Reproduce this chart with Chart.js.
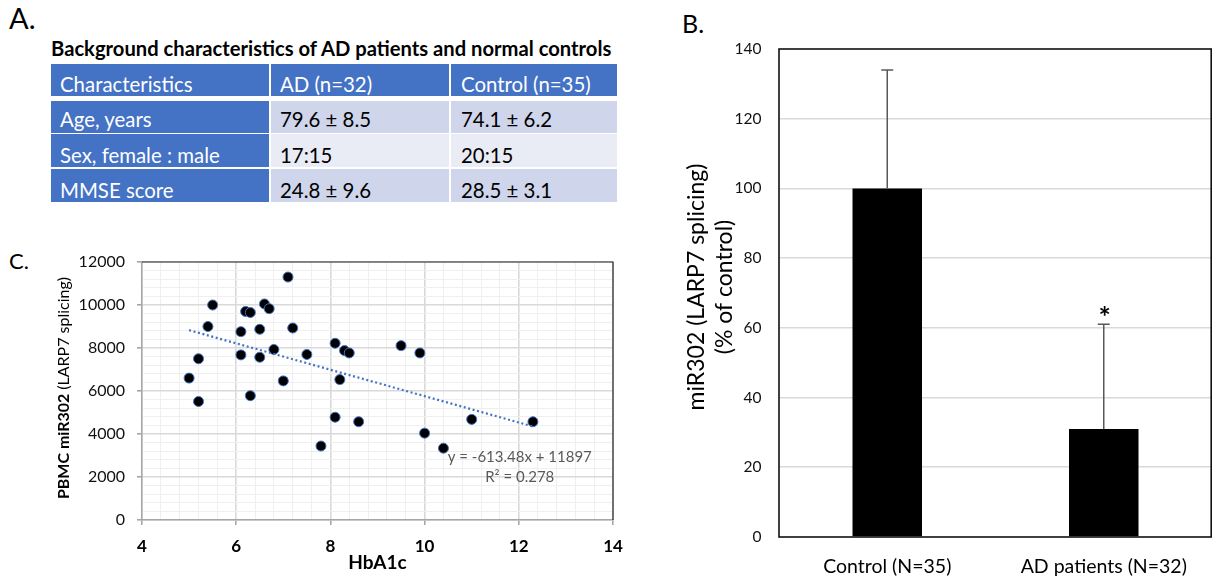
<!DOCTYPE html>
<html><head><meta charset="utf-8">
<script src="https://cdn.jsdelivr.net/npm/chart.js@4.4.1/dist/chart.umd.min.js"></script>
<style>
html,body{margin:0;padding:0;background:#fff;}
body{width:1213px;height:584px;position:relative;overflow:hidden;font-family:Lato,"Open Sans",sans-serif;}
.t{position:absolute;line-height:1;white-space:nowrap;}
.cell{position:absolute;}
#scWrap{position:absolute;left:0;top:230px;width:640px;height:354px;}
#barWrap{position:absolute;left:640px;top:0;width:573px;height:584px;}
</style></head><body>
<div id="tbl"></div>
<div id="scWrap"><canvas id="sc"></canvas></div>
<div id="barWrap"><canvas id="bar"></canvas></div>
<script>
// ---------- data ----------
const panelLabels = ["A.", "B.", "C."];
const tableTitle = "Background characteristics of AD patients and normal controls";
const tableHeader = ["Characteristics", "AD (n=32)", "Control (n=35)"];
const tableRowAge = ["Age, years", "79.6 ± 8.5", "74.1 ± 6.2"];
const tableRowSex = ["Sex, female : male", "17:15", "20:15"];
const tableRowMMSE = ["MMSE score", "24.8 ± 9.6", "28.5 ± 3.1"];

const hba1c  = [7.1, 5.5, 6.2, 6.3, 6.6, 6.7, 5.4, 6.1, 6.5, 7.2, 8.1, 8.3, 8.4, 9.5, 9.9, 6.8,
                6.1, 6.5, 7.5, 5.2, 5.0, 7.0, 8.2, 5.2, 6.3, 8.1, 8.6, 11.0, 12.3, 10.0, 7.8, 10.4];
const mir302 = [11300, 10000, 9700, 9650, 10050, 9830, 9000, 8760, 8870, 8930, 8220, 7880, 7770, 8110, 7770, 7930,
                7680, 7570, 7700, 7500, 6600, 6470, 6530, 5510, 5780, 4780, 4570, 4680, 4570, 4040, 3440, 3340];
const trendX = [5.0, 12.3];
const trendY = [8830, 4350];
const trendEquation = "y = -613.48x + 11897";
const trendR2 = "R² = 0.278";
const xMajorTicks = [4, 6, 8, 10, 12, 14];
const yMajorTicks = [0, 2000, 4000, 6000, 8000, 10000, 12000];
const xMinorStep = 0.4;
const yMinorStep = 400;
const scatterXTitle = "HbA1c";
const scatterYTitleBold = "PBMC miR302 ";
const scatterYTitleNormal = "(LARP7 splicing)";

const barCategories = ["Control (N=35)", "AD patients (N=32)"];
const barValues = [100, 31];
const barErrors = [34, 30];
const barMarks = ["", "*"];
const barTicks = [0, 20, 40, 60, 80, 100, 120, 140];
const barYTitle = ["miR302 (LARP7 splicing)", "(% of control)"];

// ---------- layout: panel labels + table (HTML) ----------
const tbl = document.getElementById('tbl');
function addText(str, x, baseline, size, weight, color) {
  const d = document.createElement('div');
  d.className = 't';
  d.textContent = str;
  d.style.left = x + 'px';
  d.style.top = (baseline - 0.887 * size) + 'px';
  d.style.fontSize = size + 'px';
  d.style.fontWeight = weight;
  d.style.color = color;
  tbl.appendChild(d);
}
function addCell(x0, x1, y0, y1, bg) {
  const d = document.createElement('div');
  d.className = 'cell';
  d.style.left = x0 + 'px'; d.style.top = y0 + 'px';
  d.style.width = (x1 - x0) + 'px'; d.style.height = (y1 - y0) + 'px';
  d.style.background = bg;
  tbl.appendChild(d);
}
addText(panelLabels[0], 9, 28.5, 29, 'normal', '#000');
addText(panelLabels[1], 682, 33.5, 25, 'normal', '#000');
addText(panelLabels[2], 9, 270, 22, 'normal', '#000');
addText(tableTitle, 51, 56, 20.2, 'bold', '#000');

const colX = [[50.7, 268.7], [270.7, 449], [451, 616.7]];
const rowY = [[64, 96], [100.7, 132.7], [134.3, 167.3], [169.3, 202.3]];
const rowBase = [91.7, 126.7, 163.3, 198.3];
const textX = [60, 280, 461];
const rowFill = ['#4472C4', '#CFD5EA', '#E9EBF5', '#CFD5EA'];
const rows = [tableHeader, tableRowAge, tableRowSex, tableRowMMSE];
rows.forEach((r, ri) => {
  r.forEach((txt, ci) => {
    const blue = ri === 0 || ci === 0;
    addCell(colX[ci][0], colX[ci][1], rowY[ri][0], rowY[ri][1], blue ? '#4472C4' : rowFill[ri]);
    addText(txt, textX[ci], rowBase[ri], 20.4, 'normal', blue ? '#fff' : '#000');
  });
});

// ---------- helpers ----------
const isMult = (v, m) => Math.abs(v / m - Math.round(v / m)) < 1e-6;
function stepTicks(min, max, step) {
  const out = [];
  const n = Math.round((max - min) / step);
  for (let i = 0; i <= n; i++) out.push({ value: Math.round((min + i * step) * 1000) / 1000 });
  return out;
}

// ---------- C: scatter ----------
const scatterDecor = {
  id: 'scatterDecor',
  afterDraw(chart) {
    const { ctx, chartArea: a, scales } = chart;
    ctx.save();
    // top & right frame
    ctx.strokeStyle = '#262626';
    ctx.lineWidth = 1.2;
    ctx.beginPath();
    ctx.moveTo(a.left, a.top); ctx.lineTo(a.right, a.top); ctx.lineTo(a.right, a.bottom);
    ctx.stroke();
    // trend equation
    ctx.fillStyle = '#595959';
    ctx.font = '15px Lato';
    ctx.textAlign = 'center';
    ctx.textBaseline = 'middle';
    ctx.fillText(trendEquation, scales.x.getPixelForValue(12.02), scales.y.getPixelForValue(2930));
    ctx.fillText(trendR2, scales.x.getPixelForValue(12.02), scales.y.getPixelForValue(2000));
    // y title (mixed weight)
    ctx.translate(a.left - 77.7, (a.top + a.bottom) / 2 - 3);
    ctx.rotate(-Math.PI / 2);
    ctx.fillStyle = '#000';
    ctx.textAlign = 'left';
    ctx.font = 'bold 16px Lato';
    const w1 = ctx.measureText(scatterYTitleBold).width;
    ctx.font = '16px Lato';
    const w2 = ctx.measureText(scatterYTitleNormal).width;
    const s = -(w1 + w2) / 2;
    ctx.font = 'bold 16px Lato';
    ctx.fillText(scatterYTitleBold, s, 0);
    ctx.font = '16px Lato';
    ctx.fillText(scatterYTitleNormal, s + w1, 0);
    ctx.restore();
  }
};

new Chart(document.getElementById('sc'), {
  type: 'scatter',
  data: {
    datasets: [
      { type: 'line', label: 'Linear trend', data: trendX.map((x, i) => ({ x, y: trendY[i] })),
        borderColor: '#4472C4', borderWidth: 2.2, borderDash: [2, 2.6], pointRadius: 0, fill: false, tension: 0, order: 0 },
      { label: 'PBMC miR302', data: hba1c.map((x, i) => ({ x, y: mir302[i] })),
        pointRadius: 5, pointHoverRadius: 5, backgroundColor: '#000', borderColor: '#4472C4', borderWidth: 1, order: 1 }
    ]
  },
  options: {
    animation: false, responsive: true, maintainAspectRatio: false,
    layout: { padding: { left: 0, top: 32, right: 27, bottom: 0 } },
    plugins: { legend: { display: false }, tooltip: { enabled: false } },
    scales: {
      x: {
        type: 'linear', min: xMajorTicks[0], max: xMajorTicks[xMajorTicks.length - 1],
        afterBuildTicks: s => { s.ticks = stepTicks(xMajorTicks[0], xMajorTicks[xMajorTicks.length - 1], xMinorStep); },
        afterFit: s => { s.height = 64; },
        grid: {
          color: c => (c.tick && isMult(c.tick.value, 2)) ? '#d9d9d9' : '#efefef',
          lineWidth: c => (c.tick && isMult(c.tick.value, 2)) ? 1.6 : 1,
          tickLength: 5,
          tickColor: c => (c.tick && isMult(c.tick.value, 2)) ? '#a6a6a6' : 'rgba(0,0,0,0)'
        },
        border: { display: true, color: '#a6a6a6', width: 1.5 },
        ticks: {
          autoSkip: false, maxRotation: 0, padding: 11, color: '#000',
          font: { family: 'Lato', size: 17, weight: 'bold' },
          callback: v => xMajorTicks.some(t => Math.abs(t - v) < 1e-6) ? String(Math.round(v)) : ''
        },
        title: { display: true, text: scatterXTitle, color: '#000',
                 font: { family: 'Lato', size: 19, weight: 'bold' }, padding: { top: 0, bottom: 10 } }
      },
      y: {
        type: 'linear', min: yMajorTicks[0], max: yMajorTicks[yMajorTicks.length - 1],
        afterBuildTicks: s => { s.ticks = stepTicks(yMajorTicks[0], yMajorTicks[yMajorTicks.length - 1], yMinorStep); },
        afterFit: s => { s.width = 142; },
        grid: {
          color: c => (c.tick && isMult(c.tick.value, 2000)) ? '#d9d9d9' : '#efefef',
          lineWidth: c => (c.tick && isMult(c.tick.value, 2000)) ? 1.6 : 1,
          tickLength: 5,
          tickColor: c => (c.tick && isMult(c.tick.value, 2000)) ? '#a6a6a6' : 'rgba(0,0,0,0)'
        },
        border: { display: true, color: '#a6a6a6', width: 1.5 },
        ticks: {
          autoSkip: false, padding: 12, color: '#111',
          font: { family: 'Lato', size: 16 },
          callback: v => yMajorTicks.includes(Math.round(v)) && isMult(v, 2000) ? String(Math.round(v)) : ''
        }
      }
    }
  },
  plugins: [scatterDecor]
});

// ---------- B: bar chart ----------
const barDecor = {
  id: 'barDecor',
  afterDatasetsDraw(chart) {
    const { ctx, scales } = chart;
    const meta = chart.getDatasetMeta(0);
    ctx.save();
    ctx.strokeStyle = '#595959';
    ctx.lineWidth = 1.5;
    meta.data.forEach((el, i) => {
      const x = el.x;
      const y0 = scales.y.getPixelForValue(barValues[i]);
      const y1 = scales.y.getPixelForValue(barValues[i] + barErrors[i]);
      ctx.beginPath();
      ctx.moveTo(x, y0); ctx.lineTo(x, y1);
      ctx.moveTo(x - 6, y1); ctx.lineTo(x + 6, y1);
      ctx.stroke();
      if (barMarks[i]) {
        ctx.fillStyle = '#000';
        ctx.font = 'bold 29px Lato';
        ctx.textAlign = 'center';
        ctx.textBaseline = 'alphabetic';
        ctx.fillText(barMarks[i], x + 1, y1 + 3);
      }
    });
    ctx.restore();
  },
  afterDraw(chart) {
    const { ctx, chartArea: a } = chart;
    ctx.save();
    ctx.strokeStyle = '#111';
    ctx.lineWidth = 1.6;
    ctx.strokeRect(a.left, a.top, a.right - a.left - 0.8, a.bottom - a.top);
    ctx.fillStyle = '#000';
    ctx.font = '23px Lato';
    ctx.textAlign = 'center';
    ctx.textBaseline = 'middle';
    const cy = 287;
    [[barYTitle[0], a.left - 82.7], [barYTitle[1], a.left - 54.5]].forEach(([t, x]) => {
      ctx.save();
      ctx.translate(x, cy);
      ctx.rotate(-Math.PI / 2);
      ctx.fillText(t, 0, 0);
      ctx.restore();
    });
    ctx.restore();
  }
};

new Chart(document.getElementById('bar'), {
  type: 'bar',
  data: {
    labels: barCategories,
    datasets: [{ label: 'miR302 (LARP7 splicing)', data: barValues, backgroundColor: '#000', borderWidth: 0,
                 barPercentage: 0.321, categoryPercentage: 1 }]
  },
  options: {
    animation: false, responsive: true, maintainAspectRatio: false,
    layout: { padding: { left: 0, top: 49, right: 1, bottom: 0 } },
    plugins: { legend: { display: false }, tooltip: { enabled: false } },
    scales: {
      x: {
        afterFit: s => { s.height = 47; },
        grid: { display: false, drawTicks: false },
        border: { display: false },
        ticks: { padding: 18, color: '#000', font: { family: 'Lato', size: 19.5 } }
      },
      y: {
        min: barTicks[0], max: barTicks[barTicks.length - 1],
        afterFit: s => { s.width = 139; },
        afterBuildTicks: s => { s.ticks = barTicks.map(v => ({ value: v })); },
        grid: {
          color: c => (c.tick && (c.tick.value === barTicks[0] || c.tick.value === barTicks[barTicks.length - 1])) ? 'rgba(0,0,0,0)' : '#d9d9d9',
          lineWidth: 1.6, drawTicks: false
        },
        border: { display: false },
        ticks: { padding: 17.5, color: '#111', font: { family: 'Lato', size: 15.5 } }
      }
    }
  },
  plugins: [barDecor]
});
</script>
</body></html>
